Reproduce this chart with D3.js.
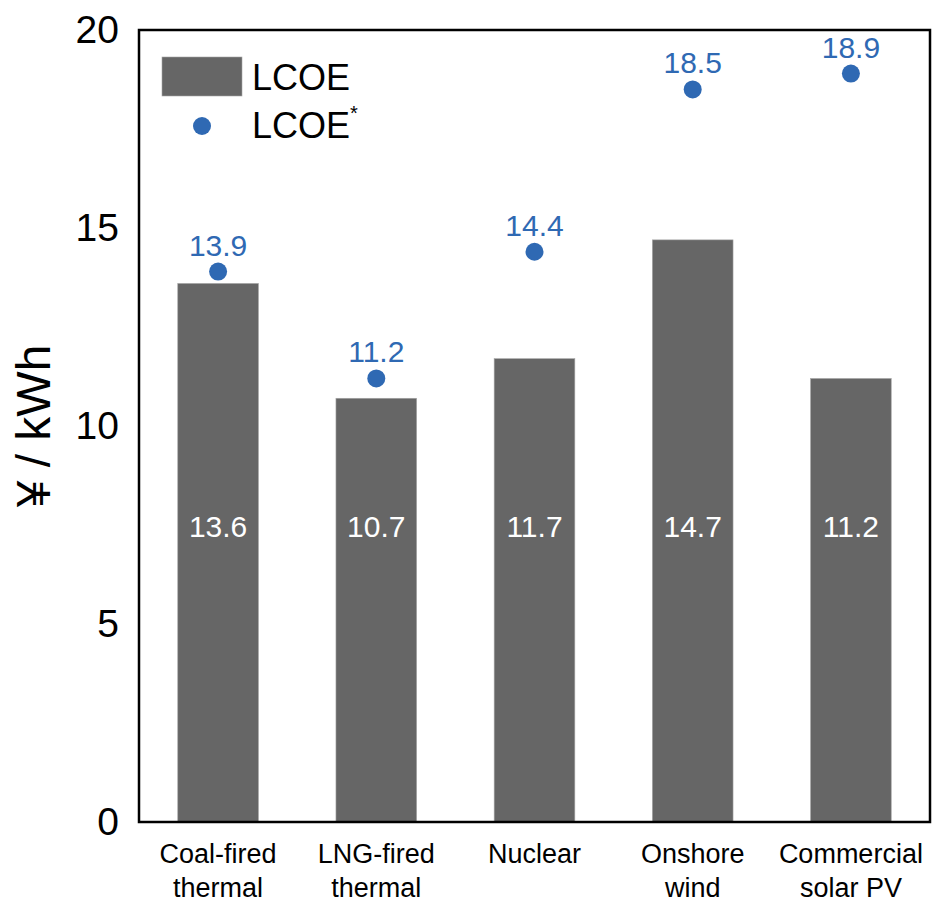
<!DOCTYPE html>
<html>
<head>
<meta charset="utf-8">
<script src="https://cdn.jsdelivr.net/npm/d3@7"></script>
<style>
  html, body { margin: 0; padding: 0; background: #fff; }
  svg { display: block; font-family: "Liberation Sans", Arial, sans-serif; }
</style>
</head>
<body>
<svg id="chart" width="932" height="906"></svg>
<script>
// Levelized cost of electricity by source (yen per kWh)
const categories = [
  ["Coal-fired", "thermal"],
  ["LNG-fired", "thermal"],
  ["Nuclear"],
  ["Onshore", "wind"],
  ["Commercial", "solar PV"]
];
const lcoe = [13.6, 10.7, 11.7, 14.7, 11.2];
const lcoeStar = [13.9, 11.2, 14.4, 18.5, 18.9];
const yTicks = [0, 5, 10, 15, 20];

const barColor = "#666666";
const dotColor = "#2f69b3";

const svg = d3.select("#chart");
const margin = { left: 139, right: 2, top: 30, bottom: 84 };
const W = 932, H = 906;

const keys = categories.map(c => c.join(" "));
const x = d3.scaleBand()
  .domain(keys)
  .range([margin.left, W - margin.right])
  .paddingInner(0.49)
  .paddingOuter(0.245);

const y = d3.scaleLinear()
  .domain([0, 20])
  .range([H - margin.bottom, margin.top]);

const cx = i => x(keys[i]) + x.bandwidth() / 2;

// Bars
svg.append("g")
  .selectAll("rect")
  .data(lcoe)
  .join("rect")
  .attr("x", (d, i) => x(keys[i]))
  .attr("y", d => y(d))
  .attr("width", x.bandwidth())
  .attr("height", d => y(0) - y(d))
  .attr("fill", barColor)
  .attr("stroke", "#a6a6a6")
  .attr("stroke-width", 0.6);

// Values written inside the bars
svg.append("g")
  .selectAll("text")
  .data(lcoe)
  .join("text")
  .attr("x", (d, i) => cx(i))
  .attr("y", y(7.45))
  .attr("dy", "0.35em")
  .attr("text-anchor", "middle")
  .attr("fill", "#fff")
  .attr("font-size", 30)
  .text(d => d.toFixed(1));

// LCOE* points with labels
const pts = svg.append("g");
pts.selectAll("circle")
  .data(lcoeStar)
  .join("circle")
  .attr("cx", (d, i) => cx(i))
  .attr("cy", d => y(d))
  .attr("r", 9)
  .attr("fill", dotColor);
pts.selectAll("text")
  .data(lcoeStar)
  .join("text")
  .attr("x", (d, i) => cx(i))
  .attr("y", d => y(d) - 16)
  .attr("text-anchor", "middle")
  .attr("fill", dotColor)
  .attr("font-size", 30)
  .text(d => d.toFixed(1));

// Frame around the plot area
svg.append("rect")
  .attr("x", margin.left)
  .attr("y", margin.top)
  .attr("width", W - margin.right - margin.left)
  .attr("height", y(0) - margin.top)
  .attr("fill", "none")
  .attr("stroke", "#000")
  .attr("stroke-width", 2.5);

// Y axis
const yAxis = svg.append("g")
  .attr("transform", `translate(${margin.left},0)`)
  .call(d3.axisLeft(y).tickValues(yTicks).tickSize(0).tickPadding(20));
yAxis.select(".domain").remove();
yAxis.selectAll("text")
  .attr("font-size", 39)
  .attr("font-family", "'Liberation Sans', Arial, sans-serif")
  .attr("fill", "#000");

svg.append("text")
  .attr("transform", `translate(50,${(margin.top + y(0)) / 2}) rotate(-90)`)
  .attr("text-anchor", "middle")
  .attr("font-size", 48)
  .attr("fill", "#000")
  .text("¥ / kWh");

// Category labels
const xl = svg.append("g");
categories.forEach((lines, i) => {
  const t = xl.append("text")
    .attr("x", cx(i))
    .attr("y", 863)
    .attr("text-anchor", "middle")
    .attr("font-size", 27)
    .attr("fill", "#000");
  lines.forEach((s, j) => {
    t.append("tspan")
      .attr("x", cx(i))
      .attr("dy", j === 0 ? 0 : 34)
      .text(s);
  });
});

// Legend
const lg = svg.append("g");
lg.append("rect")
  .attr("x", 162).attr("y", 57)
  .attr("width", 80).attr("height", 39)
  .attr("fill", barColor)
  .attr("stroke", "#a6a6a6").attr("stroke-width", 0.6);
lg.append("text")
  .attr("x", 252).attr("y", 90)
  .attr("font-size", 36)
  .attr("fill", "#000")
  .text("LCOE");
lg.append("circle")
  .attr("cx", 202).attr("cy", 126).attr("r", 9)
  .attr("fill", dotColor);
const t2 = lg.append("text")
  .attr("x", 252).attr("y", 138)
  .attr("font-size", 36)
  .attr("fill", "#000")
  .text("LCOE");
t2.append("tspan")
  .attr("font-size", 20)
  .attr("dy", -18)
  .text("*");
</script>
</body>
</html>
